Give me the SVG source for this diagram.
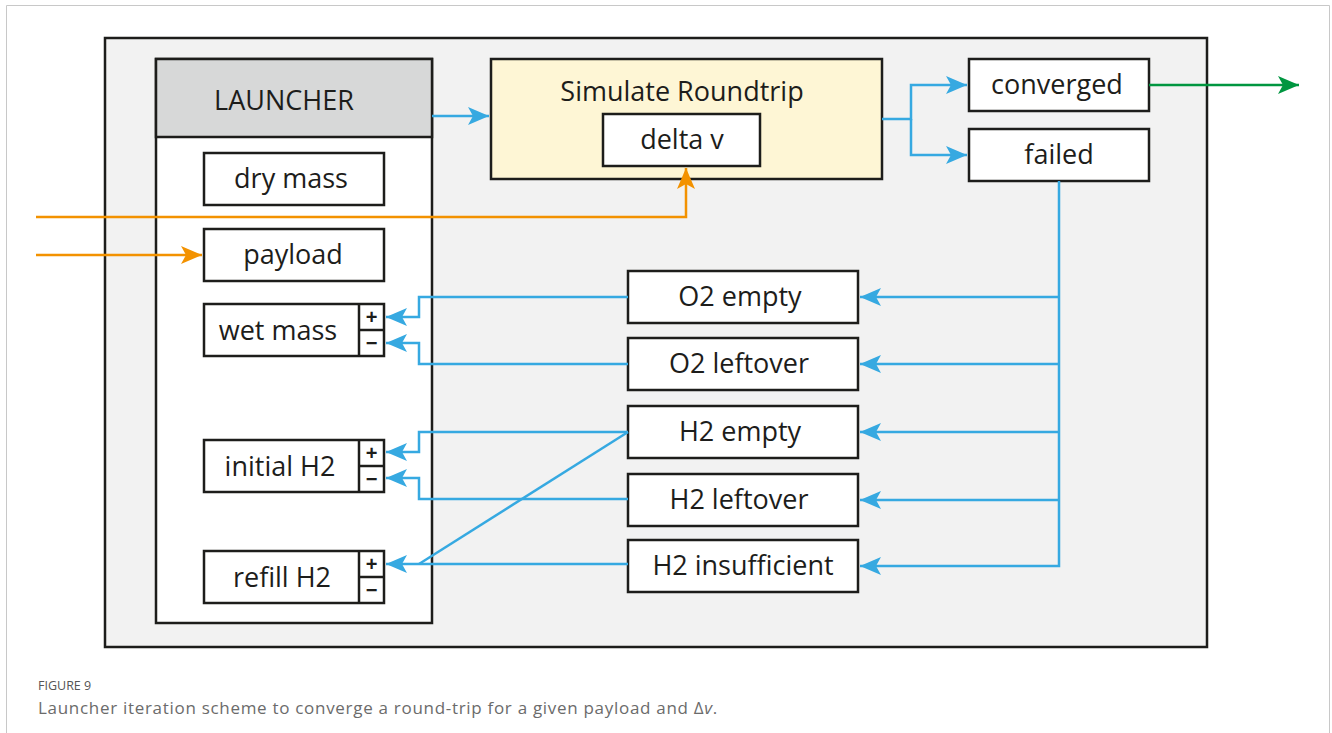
<svg xmlns="http://www.w3.org/2000/svg" width="1332" height="733" viewBox="0 0 1332 733">
  <style>
    .box { fill: #ffffff; stroke: #1d1d1b; stroke-width: 2.5; }
    .lbl { font-family: "Open Sans", "Liberation Sans", sans-serif; font-size: 27px; fill: #1d1d1b; text-anchor: middle; }
    .sign { font-family: "Liberation Sans", sans-serif; font-size: 20px; font-weight: bold; fill: #1d1d1b; text-anchor: middle; }
    .blue { fill: none; stroke: #36a9e1; stroke-width: 2.5; }
    .orange { fill: none; stroke: #f39200; stroke-width: 2.5; }
    .green { fill: none; stroke: #009640; stroke-width: 2.5; }
    .cap1 { font-family: "Open Sans", "Liberation Sans", sans-serif; font-size: 12.5px; fill: #555555; }
    .cap2 { font-family: "Open Sans", "Liberation Sans", sans-serif; font-size: 17px; letter-spacing: 0.7px; fill: #6b6b6b; }
  </style>
  <defs>
    <marker id="ah-blue" markerUnits="userSpaceOnUse" markerWidth="24" markerHeight="22" viewBox="-22 -11 24 22" refX="0" refY="0" orient="auto">
      <path d="M0,0 L-21,-9 L-16,0 L-21,9 Z" fill="#36a9e1"/>
    </marker>
    <marker id="ah-orange" markerUnits="userSpaceOnUse" markerWidth="24" markerHeight="22" viewBox="-22 -11 24 22" refX="0" refY="0" orient="auto">
      <path d="M0,0 L-21,-9 L-16,0 L-21,9 Z" fill="#f39200"/>
    </marker>
    <marker id="ah-green" markerUnits="userSpaceOnUse" markerWidth="24" markerHeight="22" viewBox="-22 -11 24 22" refX="0" refY="0" orient="auto">
      <path d="M0,0 L-21,-9 L-16,0 L-21,9 Z" fill="#009640"/>
    </marker>
  </defs>

  <!-- page background and frame -->
  <rect x="0" y="0" width="1332" height="733" fill="#ffffff"/>
  <path d="M6.5,733 V5.5 H1329.5 V733" fill="none" stroke="#c8c8c8" stroke-width="1"/>

  <!-- outer panel -->
  <rect id="panel" x="105" y="38" width="1102" height="609" fill="#f2f2f2" stroke="#1d1d1b" stroke-width="2.5"/>

  <!-- launcher block -->
  <g id="launcher">
    <rect x="156" y="59" width="276" height="564" class="box"/>
    <rect x="156" y="59" width="276" height="78" fill="#d7d8d8" stroke="#1d1d1b" stroke-width="2.5"/>
    <text x="284" y="110" class="lbl">LAUNCHER</text>
  </g>
  <g id="dry-mass">
    <rect x="204" y="153" width="180" height="52" class="box"/>
    <text x="291" y="188" class="lbl">dry mass</text>
  </g>
  <g id="payload">
    <rect x="204" y="229" width="180" height="52" class="box"/>
    <text x="293" y="264" class="lbl">payload</text>
  </g>
  <g id="wet-mass">
    <rect x="204" y="304" width="180" height="52" class="box"/>
    <line x1="359" y1="304" x2="359" y2="356" stroke="#1d1d1b" stroke-width="2.5"/>
    <line x1="359" y1="330" x2="384" y2="330" stroke="#1d1d1b" stroke-width="2.5"/>
    <text x="278" y="340" class="lbl">wet mass</text>
    <text x="371.5" y="324" class="sign">+</text>
    <text x="371.5" y="350" class="sign">−</text>
  </g>
  <g id="initial-h2">
    <rect x="204" y="440" width="180" height="52" class="box"/>
    <line x1="359" y1="440" x2="359" y2="492" stroke="#1d1d1b" stroke-width="2.5"/>
    <line x1="359" y1="466" x2="384" y2="466" stroke="#1d1d1b" stroke-width="2.5"/>
    <text x="280" y="476" class="lbl">initial H2</text>
    <text x="371.5" y="460" class="sign">+</text>
    <text x="371.5" y="486" class="sign">−</text>
  </g>
  <g id="refill-h2">
    <rect x="204" y="551" width="180" height="52" class="box"/>
    <line x1="359" y1="551" x2="359" y2="603" stroke="#1d1d1b" stroke-width="2.5"/>
    <line x1="359" y1="577" x2="384" y2="577" stroke="#1d1d1b" stroke-width="2.5"/>
    <text x="282" y="587" class="lbl">refill H2</text>
    <text x="371.5" y="571" class="sign">+</text>
    <text x="371.5" y="597" class="sign">−</text>
  </g>

  <!-- simulation block -->
  <g id="simulate">
    <rect x="491" y="59" width="391" height="120" fill="#fef6d5" stroke="#1d1d1b" stroke-width="2.5"/>
    <text x="682" y="101" class="lbl">Simulate Roundtrip</text>
  </g>
  <g id="delta-v">
    <rect x="603" y="114" width="157" height="52" class="box"/>
    <text x="682" y="149" class="lbl">delta v</text>
  </g>

  <!-- outcomes -->
  <g id="converged">
    <rect x="969" y="59" width="180" height="52" class="box"/>
    <text x="1057" y="94" class="lbl">converged</text>
  </g>
  <g id="failed">
    <rect x="969" y="129" width="180" height="52" class="box"/>
    <text x="1059" y="164" class="lbl">failed</text>
  </g>

  <!-- failure modes -->
  <g id="o2-empty">
    <rect x="628" y="271" width="230" height="52" class="box"/>
    <text x="740" y="306" class="lbl">O2 empty</text>
  </g>
  <g id="o2-leftover">
    <rect x="628" y="338" width="230" height="52" class="box"/>
    <text x="739" y="373" class="lbl">O2 leftover</text>
  </g>
  <g id="h2-empty">
    <rect x="628" y="406" width="230" height="52" class="box"/>
    <text x="740" y="441" class="lbl">H2 empty</text>
  </g>
  <g id="h2-leftover">
    <rect x="628" y="474" width="230" height="52" class="box"/>
    <text x="739" y="509" class="lbl">H2 leftover</text>
  </g>
  <g id="h2-insufficient">
    <rect x="628" y="540" width="230" height="52" class="box"/>
    <text x="743" y="575" class="lbl">H2 insufficient</text>
  </g>

  <!-- connectors -->
  <g id="connectors">
    <path class="blue" d="M432,116 H489" marker-end="url(#ah-blue)"/>
    <path class="blue" d="M882,119 H911 V85 H967" marker-end="url(#ah-blue)"/>
    <path class="blue" d="M911,119 V155 H967" marker-end="url(#ah-blue)"/>
    <path class="blue" d="M1059,181 V566 H860" marker-end="url(#ah-blue)"/>
    <path class="blue" d="M1059,297 H860" marker-end="url(#ah-blue)"/>
    <path class="blue" d="M1059,364 H860" marker-end="url(#ah-blue)"/>
    <path class="blue" d="M1059,432 H860" marker-end="url(#ah-blue)"/>
    <path class="blue" d="M1059,500 H860" marker-end="url(#ah-blue)"/>
    <path class="blue" d="M628,297 H419 V317 H386" marker-end="url(#ah-blue)"/>
    <path class="blue" d="M628,364 H419 V343 H386" marker-end="url(#ah-blue)"/>
    <path class="blue" d="M628,432 H419 V452 H386" marker-end="url(#ah-blue)"/>
    <path class="blue" d="M628,499 H419 V478 H386" marker-end="url(#ah-blue)"/>
    <path class="blue" d="M628,432 L419,564"/>
    <path class="blue" d="M628,564 H386" marker-end="url(#ah-blue)"/>
    <path class="orange" d="M36,217 H686 V168" marker-end="url(#ah-orange)"/>
    <path class="orange" d="M36,255 H202" marker-end="url(#ah-orange)"/>
    <path class="green" d="M1149,85 H1299" marker-end="url(#ah-green)"/>
  </g>

  <!-- caption -->
  <text x="38" y="690" class="cap1">FIGURE 9</text>
  <text x="38" y="714" class="cap2">Launcher iteration scheme to converge a round-trip for a given payload and Δ<tspan font-style="italic">v</tspan>.</text>
</svg>
